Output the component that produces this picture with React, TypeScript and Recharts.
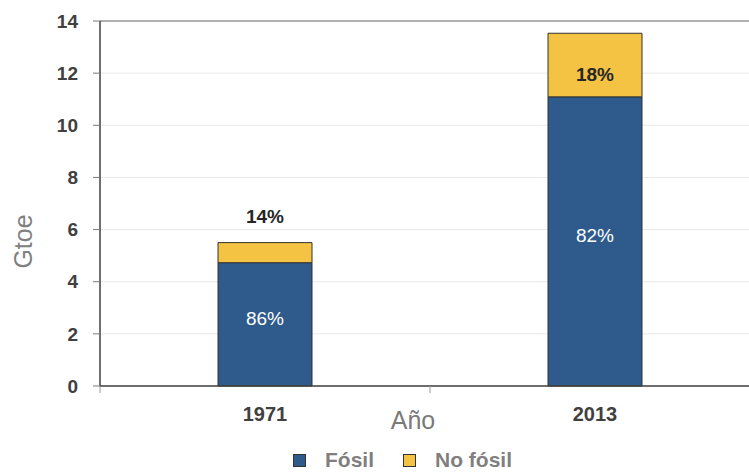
import React from 'react';
import {
  BarChart,
  Bar,
  XAxis,
  YAxis,
  CartesianGrid,
  Legend,
  LabelList,
  ReferenceLine,
} from 'recharts';

// Primary energy supply (Gtoe), split into fossil / non-fossil
const years = ['1971', '2013'];
const fossil = [4.73, 11.09];
const nonFossil = [0.77, 2.44];
const yTicks = [0, 2, 4, 6, 8, 10, 12, 14];

const BLUE = '#2E5B8C';
const YELLOW = '#F5C343';
const FONT = '"Liberation Sans", Arial, sans-serif';

const data = years.map((year, i) => ({
  year,
  fossil: fossil[i],
  nonFossil: nonFossil[i],
  total: fossil[i] + nonFossil[i],
}));

const pct = (v: number, total: number) => `${Math.round((v / total) * 100)}%`;

const XTick = (props: any) => {
  const { x, y, payload, width, visibleTicksCount, index } = props;
  const band = width / visibleTicksCount;
  return (
    <g>
      <line x1={x - band / 2} x2={x - band / 2} y1={y} y2={y + 7} stroke="#9a9a9a" strokeWidth={1} />
      {index === visibleTicksCount - 1 && (
        <line x1={x + band / 2} x2={x + band / 2} y1={y} y2={y + 7} stroke="#9a9a9a" strokeWidth={1} />
      )}
      <text
        x={x}
        y={y + 35}
        textAnchor="middle"
        fill="#404040"
        fontFamily={FONT}
        fontWeight="bold"
        fontSize={20}
      >
        {payload.value}
      </text>
    </g>
  );
};

const fossilLabel = (props: any) => {
  const { x, y, width, height, index } = props;
  const d = data[index];
  return (
    <text
      x={x + width / 2}
      y={y + height / 2 - 6}
      textAnchor="middle"
      dominantBaseline="central"
      fill="#ffffff"
      fontFamily={FONT}
      fontSize={19}
    >
      {pct(d.fossil, d.total)}
    </text>
  );
};

const nonFossilLabel = (props: any) => {
  const { x, y, width, height, index } = props;
  const d = data[index];
  const inside = height > 30;
  return (
    <text
      x={x + width / 2}
      y={inside ? y + height / 2 + 9 : y - 26}
      textAnchor="middle"
      dominantBaseline="central"
      fill="#262626"
      fontFamily={FONT}
      fontWeight="bold"
      fontSize={19}
    >
      {pct(d.nonFossil, d.total)}
    </text>
  );
};

const legendItems = [
  { name: 'Fósil', color: BLUE },
  { name: 'No fósil', color: YELLOW },
];

const LegendContent = () => (
  <div
    style={{
      display: 'flex',
      alignItems: 'center',
      paddingLeft: 293,
      height: 26,
      fontFamily: FONT,
      fontWeight: 'bold',
      fontSize: 21,
      color: '#7f7f7f',
    }}
  >
    {legendItems.map((it, i) => (
      <div key={it.name} style={{ display: 'flex', alignItems: 'center', marginRight: i === 0 ? 29 : 0 }}>
        <span
          style={{
            display: 'inline-block',
            width: 11,
            height: 11,
            background: it.color,
            border: '1px solid #333',
            marginRight: 19,
            position: 'relative',
            top: 1,
          }}
        />
        <span style={{ lineHeight: '24px', position: 'relative', top: 1 }}>{it.name}</span>
      </div>
    ))}
  </div>
);

export default function App() {
  return (
    <div
      style={{
        position: 'fixed',
        left: 0,
        top: 0,
        width: 749,
        height: 472,
        overflow: 'hidden',
        background: '#ffffff',
      }}
    >
      <BarChart
        width={800}
        height={472}
        data={data}
        margin={{ top: 21, right: 40, left: 0, bottom: 0 }}
        barCategoryGap={118}
      >
        <CartesianGrid horizontal vertical={false} stroke="#e8e8e8" />
        <ReferenceLine y={14} stroke="#9a9a9a" strokeWidth={1.5} />
        <XAxis
          dataKey="year"
          height={60}
          tickSize={0}
          tickMargin={0}
          tick={<XTick />}
          axisLine={{ stroke: '#404040', strokeWidth: 1.5 }}
          label={({ viewBox }: any) => (
            <text
              x={viewBox.x + viewBox.width / 2 - 17}
              y={viewBox.y + 43}
              textAnchor="middle"
              fill="#7a7a7a"
              fontFamily={FONT}
              fontSize={25}
            >
              Año
            </text>
          )}
        />
        <YAxis
          width={100}
          domain={[0, 14]}
          ticks={yTicks}
          interval={0}
          tickSize={7}
          tickMargin={15}
          tickLine={{ stroke: '#7a7a7a' }}
          axisLine={{ stroke: '#404040', strokeWidth: 1.5 }}
          tick={{ fill: '#404040', fontFamily: FONT, fontWeight: 'bold', fontSize: 19 }}
          label={({ viewBox }: any) => (
            <text
              x={32}
              y={viewBox.y + viewBox.height / 2 + 38}
              transform={`rotate(-90, 32, ${viewBox.y + viewBox.height / 2 + 38})`}
              textAnchor="middle"
              fill="#808080"
              fontFamily={FONT}
              fontSize={25}
            >
              Gtoe
            </text>
          )}
        />
        <Legend verticalAlign="bottom" height={26} content={<LegendContent />} wrapperStyle={{ width: 749 }} />
        <Bar dataKey="fossil" stackId="a" fill={BLUE} stroke="#333" strokeWidth={1} isAnimationActive={false}>
          <LabelList dataKey="fossil" content={fossilLabel} />
        </Bar>
        <Bar dataKey="nonFossil" stackId="a" fill={YELLOW} stroke="#333" strokeWidth={1} isAnimationActive={false}>
          <LabelList dataKey="nonFossil" content={nonFossilLabel} />
        </Bar>
      </BarChart>
    </div>
  );
}
